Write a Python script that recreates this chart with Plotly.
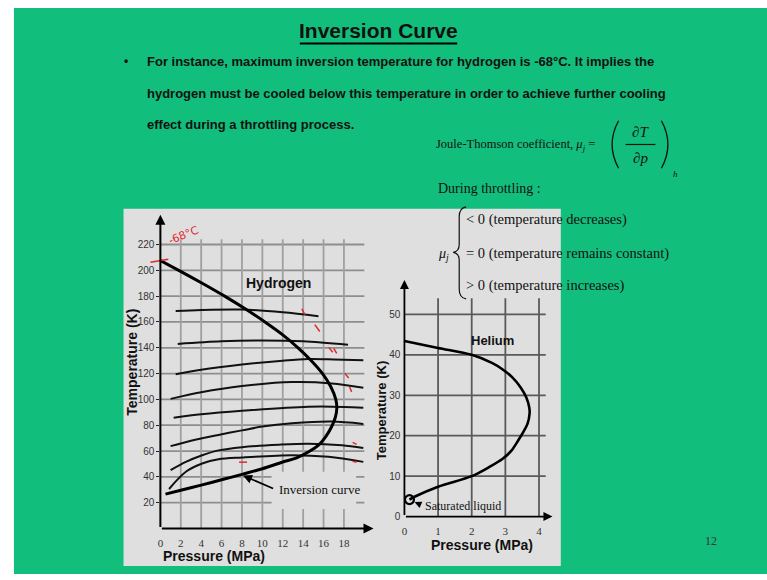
import plotly.graph_objects as go

W, H = 767, 580

# ---------------- data ----------------
# Hydrogen isenthalps (pressure MPa, temperature K)
iso1_p = [1.5, 4, 8, 12, 15.5]
iso1_T = [168.5, 169.3, 169.6, 167.5, 164.5]
iso2_p = [1.7, 6, 10, 14, 18.4]
iso2_T = [143, 145, 145.6, 145, 142.3]
iso3_p = [1.5, 4, 8, 12, 14.5, 17, 19.9]
iso3_T = [119.5, 123, 127, 130, 131.3, 131, 130.3]
iso4_p = [1, 4, 8, 12.9, 16.8, 19.9]
iso4_T = [100.4, 105.5, 110.3, 113.4, 112.4, 109]
iso5_p = [1.3, 4, 8, 14.5, 18, 19.9]
iso5_T = [85.8, 88.5, 91.2, 94.3, 94.2, 93.6]
iso6_p = [1, 3, 5.7, 8, 10, 12.9, 16.8, 19.9]
iso6_T = [63.8, 68, 72.5, 76, 79, 81.5, 82.8, 81]
iso7_p = [1, 2.5, 4.1, 5.7, 8, 11.6, 14.5, 17.8, 19.9]
iso7_T = [45.2, 51.6, 56.7, 60.5, 63, 64.9, 65.7, 64.4, 62.3]
iso8_p = [0.85, 2.5, 4.1, 5.7, 8, 12.9, 16.5, 19.9]
iso8_T = [30.6, 43.9, 50.3, 53.6, 55.0, 56.8, 55.5, 51.6]
iso_p = [iso1_p, iso2_p, iso3_p, iso4_p, iso5_p, iso6_p, iso7_p, iso8_p]
iso_T = [iso1_T, iso2_T, iso3_T, iso4_T, iso5_T, iso6_T, iso7_T, iso8_T]

# Hydrogen inversion curve
h_inv_p = [0, 1.8, 4.1, 6.3, 8.35, 10.25, 12.0, 13.5, 14.8, 15.9, 16.7, 17.2,
           17.3, 17.15, 16.8, 16.2, 15.5, 14.5, 13.3, 12.0, 10.0, 8.0, 6.0, 4.0, 2.0, 0.5]
h_inv_T = [207.6, 200, 190, 180, 170, 160, 150, 140, 130, 120, 110, 100,
           93, 86, 79, 71, 64.5, 59.2, 54.5, 51.5, 46.3, 41.9, 37.7, 33.6, 29.6, 26.6]

# Helium inversion curve
he_inv_p = [0, 1.0, 2.0, 2.6, 2.9, 3.2, 3.45, 3.62, 3.71, 3.72, 3.66, 3.54, 3.38,
            3.18, 2.92, 2.55, 2.0, 1.0, 0.3, 0.15]
he_inv_T = [43.4, 41.7, 40.0, 38.0, 36.5, 34.5, 32.0, 29.5, 27.0, 25.5, 23.0, 21.0, 18.8,
            16.3, 14.3, 12.4, 10.0, 7.4, 4.9, 4.2]
he_sat_p = [0.15]
he_sat_T = [4.2]

# ticks
h_xticks = [0, 2, 4, 6, 8, 10, 12, 14, 16, 18]
h_yticks = [20, 40, 60, 80, 100, 120, 140, 160, 180, 200, 220]
he_xticks = [0, 1, 2, 3, 4]
he_yticks = [0, 10, 20, 30, 40, 50]

# ---------------- helpers ----------------
def px(x):
    return x / W

def py(y):
    return 1 - y / H

GREEN = "#12be7c"
PANEL = "#dfdfdf"
RED = "#e0282e"
SANS_N = "Liberation Sans Narrow, Arial Narrow, Liberation Sans, sans-serif"
SERIF = "Liberation Serif, Times New Roman, serif"

fig = go.Figure()

for p, T in zip(iso_p, iso_T):
    fig.add_trace(go.Scatter(x=p, y=T, mode="lines", xaxis="x", yaxis="y",
                             line=dict(color="#111", width=2, shape="spline", smoothing=0.9),
                             hoverinfo="skip", showlegend=False))
fig.add_trace(go.Scatter(x=h_inv_p, y=h_inv_T, mode="lines", xaxis="x", yaxis="y",
                         line=dict(color="#000", width=3, shape="spline", smoothing=0.9),
                         hoverinfo="skip", showlegend=False))
fig.add_trace(go.Scatter(x=he_inv_p, y=he_inv_T, mode="lines", xaxis="x2", yaxis="y2",
                         line=dict(color="#000", width=2.6, shape="spline", smoothing=0.9),
                         hoverinfo="skip", showlegend=False))
fig.add_trace(go.Scatter(x=he_sat_p, y=he_sat_T, mode="markers", xaxis="x2", yaxis="y2",
                         marker=dict(symbol="circle-open", size=9, color="#000",
                                     line=dict(width=2.2, color="#000")),
                         hoverinfo="skip", showlegend=False))

shapes = []
# backgrounds
shapes.append(dict(type="rect", xref="paper", yref="paper", x0=px(11), x1=1, y0=0, y1=py(8),
                   fillcolor=GREEN, line=dict(width=0), layer="below"))
shapes.append(dict(type="rect", xref="paper", yref="paper", x0=px(121), x1=px(560),
                   y0=py(572), y1=py(211), fillcolor=PANEL, line=dict(width=0), layer="below"))
# hydrogen grid
for t in h_yticks:
    shapes.append(dict(type="line", xref="x", yref="y", x0=0, x1=20, y0=t, y1=t,
                       line=dict(color="#8e8e8e", width=1.8), layer="below"))
for p in h_xticks[1:]:
    shapes.append(dict(type="line", xref="x", yref="y", x0=p, x1=p, y0=0, y1=224,
                       line=dict(color="#a0a0a0", width=1.8), layer="below"))
# cover behind "Inversion curve" label
shapes.append(dict(type="rect", xref="x", yref="y", x0=10.9, x1=19.2, y0=15, y1=44,
                   fillcolor=PANEL, line=dict(width=0), layer="below"))
# helium grid
for t in he_yticks[1:]:
    shapes.append(dict(type="line", xref="x2", yref="y2", x0=0, x1=4.2, y0=t, y1=t,
                       line=dict(color="#5a5a5a", width=1.8), layer="below"))
for p in he_xticks[1:]:
    shapes.append(dict(type="line", xref="x2", yref="y2", x0=p, x1=p, y0=0, y1=54,
                       line=dict(color="#5a5a5a", width=1.8), layer="below"))

# title underline
shapes.append(dict(type="line", xref="paper", yref="paper", x0=px(298), x1=px(456),
                   y0=py(44), y1=py(44), line=dict(color="#000", width=2)))
# fraction bar and parentheses
shapes.append(dict(type="line", xref="paper", yref="paper", x0=px(625), x1=px(655),
                   y0=py(146), y1=py(146), line=dict(color="#111", width=1.2)))

def path(pts):
    s = ""
    for cmd, coords in pts:
        s += cmd + " " + " ".join("%.5f,%.5f" % (px(a), py(b)) for a, b in coords) + " "
    return s.strip()

shapes.append(dict(type="path", xref="paper", yref="paper",
                   path=path([("M", [(618, 122)]), ("Q", [(605, 146), (618, 170)])]),
                   line=dict(color="#111", width=1.3)))
shapes.append(dict(type="path", xref="paper", yref="paper",
                   path=path([("M", [(661, 122)]), ("Q", [(674, 146), (661, 170)])]),
                   line=dict(color="#111", width=1.3)))
# brace
shapes.append(dict(type="path", xref="paper", yref="paper",
                   path=path([("M", [(465, 209)]), ("Q", [(458, 210), (458, 219)]),
                              ("L", [(458, 247)]), ("Q", [(458, 254), (452, 255)]),
                              ("Q", [(458, 256), (458, 263)]), ("L", [(458, 292)]),
                              ("Q", [(458, 301), (465, 302)])]),
                   line=dict(color="#111", width=1.2)))
# red handwriting marks
red_strokes = [((148, 265), (166, 262)), ((300, 312), (303, 318)), ((313, 328), (318, 335)),
               ((327, 351), (331, 356)), ((332, 352), (335, 357)), ((343, 377), (347, 382)),
               ((348, 391), (350, 396)), ((237, 467), (245, 467)), ((351, 447), (355, 449)),
               ((351, 466), (355, 467))]
for (a, b), (c, d) in red_strokes:
    shapes.append(dict(type="line", xref="paper", yref="paper", x0=px(a), x1=px(c),
                       y0=py(b), y1=py(d), line=dict(color=RED, width=1.5)))

ann = []

def txt(x, y, text, size, family=SANS_N, color="#111", xanchor="left", yanchor="middle", angle=0):
    ann.append(dict(xref="paper", yref="paper", x=px(x), y=py(y), text=text, showarrow=False,
                    xanchor=xanchor, yanchor=yanchor, textangle=angle,
                    font=dict(size=size, family=family, color=color)))

# title and bullet
txt(377, 31, "<b>Inversion Curve</b>", 21, xanchor="center")
txt(119, 62, "<b>•</b>", 12)
txt(143, 62, "<b>For instance, maximum inversion temperature for hydrogen is -68°C. It implies the</b>", 13)
txt(143, 94, "<b>hydrogen must be cooled below this temperature in order to achieve further cooling</b>", 13)
txt(143, 126, "<b>effect during a throttling process.</b>", 13)

# Joule-Thomson equation
txt(433, 147, "Joule-Thomson coefficient, <i>μ<sub>j</sub></i> =", 12.5, family=SERIF)
txt(640, 133, "<i>∂T</i>", 15, family=SERIF, xanchor="center")
txt(640, 160, "<i>∂p</i>", 15, family=SERIF, xanchor="center")
txt(671, 176, "<i>h</i>", 9, family=SERIF)
txt(435, 190, "During throttling :", 14, family=SERIF)
txt(435, 257, "<i>μ<sub>j</sub></i>", 14, family=SERIF)
txt(463, 222, "&lt; 0 (temperature decreases)", 14.5, family=SERIF)
txt(463, 256, "= 0 (temperature remains constant)", 14.5, family=SERIF)
txt(463, 288, "&gt; 0 (temperature increases)", 14.5, family=SERIF)

# page number
txt(711, 547, "12", 12, family=SERIF, color="#333", xanchor="center")

# axis titles
txt(130, 366, "<b>Temperature (K)</b>", 14, angle=-90, xanchor="center")
txt(212, 562, "<b>Pressure (MPa)</b>", 14, xanchor="center")
txt(380, 415, "<b>Temperature (K)</b>", 13, angle=-90, xanchor="center")
txt(481, 551, "<b>Pressure (MPa)</b>", 14, xanchor="center")

# red handwriting
txt(181, 238, "-68°C", 11, family="DejaVu Sans", color=RED, xanchor="center", angle=-22)

# in-plot labels
def dtxt(xr, yr, x, y, text, size, family=SANS_N, xanchor="center"):
    ann.append(dict(xref=xr, yref=yr, x=x, y=y, text=text, showarrow=False, xanchor=xanchor,
                    yanchor="middle", font=dict(size=size, family=family, color="#111")))

dtxt("x", "y", 11.6, 190, "<b>Hydrogen</b>", 14)
dtxt("x", "y", 11.4, 30, "Inversion curve", 13, family=SERIF, xanchor="left")
dtxt("x2", "y2", 2.63, 43.6, "<b>Helium</b>", 13)
dtxt("x2", "y2", 0.55, 2.7, "Saturated liquid", 12, family=SERIF, xanchor="left")

def arrow(xr, yr, x0, y0, x1, y1, width=2, size=1.0, head=2):
    ann.append(dict(xref=xr, yref=yr, axref=xr, ayref=yr, x=x1, y=y1, ax=x0, ay=y0,
                    text="", showarrow=True, arrowhead=head, arrowsize=size,
                    arrowwidth=width, arrowcolor="#000", standoff=0, startstandoff=0))

# axis lines with arrow tips
arrow("x", "y", 0, 0, 0, 243, width=2)
arrow("x", "y", 0, 0, 20.9, 0, width=2)
arrow("x2", "y2", 0, 0, 0, 58.5, width=1.8)
arrow("x2", "y2", 0, 0, 4.4, 0, width=1.8)
# pointers
arrow("x", "y", 11.2, 30.5, 8.1, 41, width=1.8)
arrow("x2", "y2", 0.52, 2.8, 0.3, 3.6, width=1.4)

axis_common = dict(showgrid=False, zeroline=False, showline=False, fixedrange=True)

fig.update_layout(
    width=W, height=H, autosize=False,
    margin=dict(l=0, r=0, t=0, b=0, pad=0),
    paper_bgcolor="#ffffff", plot_bgcolor="rgba(0,0,0,0)",
    showlegend=False,
    shapes=shapes, annotations=ann,
    xaxis=dict(domain=[px(158), px(373)], range=[0, 21], anchor="y",
               tickvals=h_xticks, ticktext=[str(v) for v in h_xticks],
               ticks="outside", ticklen=4, tickcolor="rgba(0,0,0,0)",
               tickfont=dict(size=11, family=SERIF, color="#333"), **axis_common),
    yaxis=dict(domain=[py(534), py(221)], range=[0, 240], anchor="x",
               tickvals=h_yticks, ticktext=[str(v) for v in h_yticks],
               ticks="outside", ticklen=3, tickcolor="#222", tickwidth=1,
               tickfont=dict(size=10, family=SANS_N, color="#333"), **axis_common),
    xaxis2=dict(domain=[px(403), px(555)], range=[0, 4.5], anchor="y2",
                tickvals=he_xticks, ticktext=[str(v) for v in he_xticks],
                ticks="outside", ticklen=4, tickcolor="rgba(0,0,0,0)",
                tickfont=dict(size=11, family=SERIF, color="#333"), **axis_common),
    yaxis2=dict(domain=[py(522), py(285)], range=[0, 58], anchor="x2",
                tickvals=he_yticks, ticktext=[str(v) for v in he_yticks],
                ticks="outside", ticklen=1, tickcolor="rgba(0,0,0,0)",
                tickfont=dict(size=10, family=SANS_N, color="#333"), **axis_common),
)

fig.write_html("out.html", config={"displayModeBar": False, "staticPlot": True})

# page without body margin; any colour under the figure continues the slide's green
with open("out.html", "r", encoding="utf-8") as f:
    html = f.read()
style = ("<style>html,body{margin:0;padding:0;background:" + GREEN + ";}</style>")
html = html.replace("<head>", "<head>" + style, 1)
with open("out.html", "w", encoding="utf-8") as f:
    f.write(html)
